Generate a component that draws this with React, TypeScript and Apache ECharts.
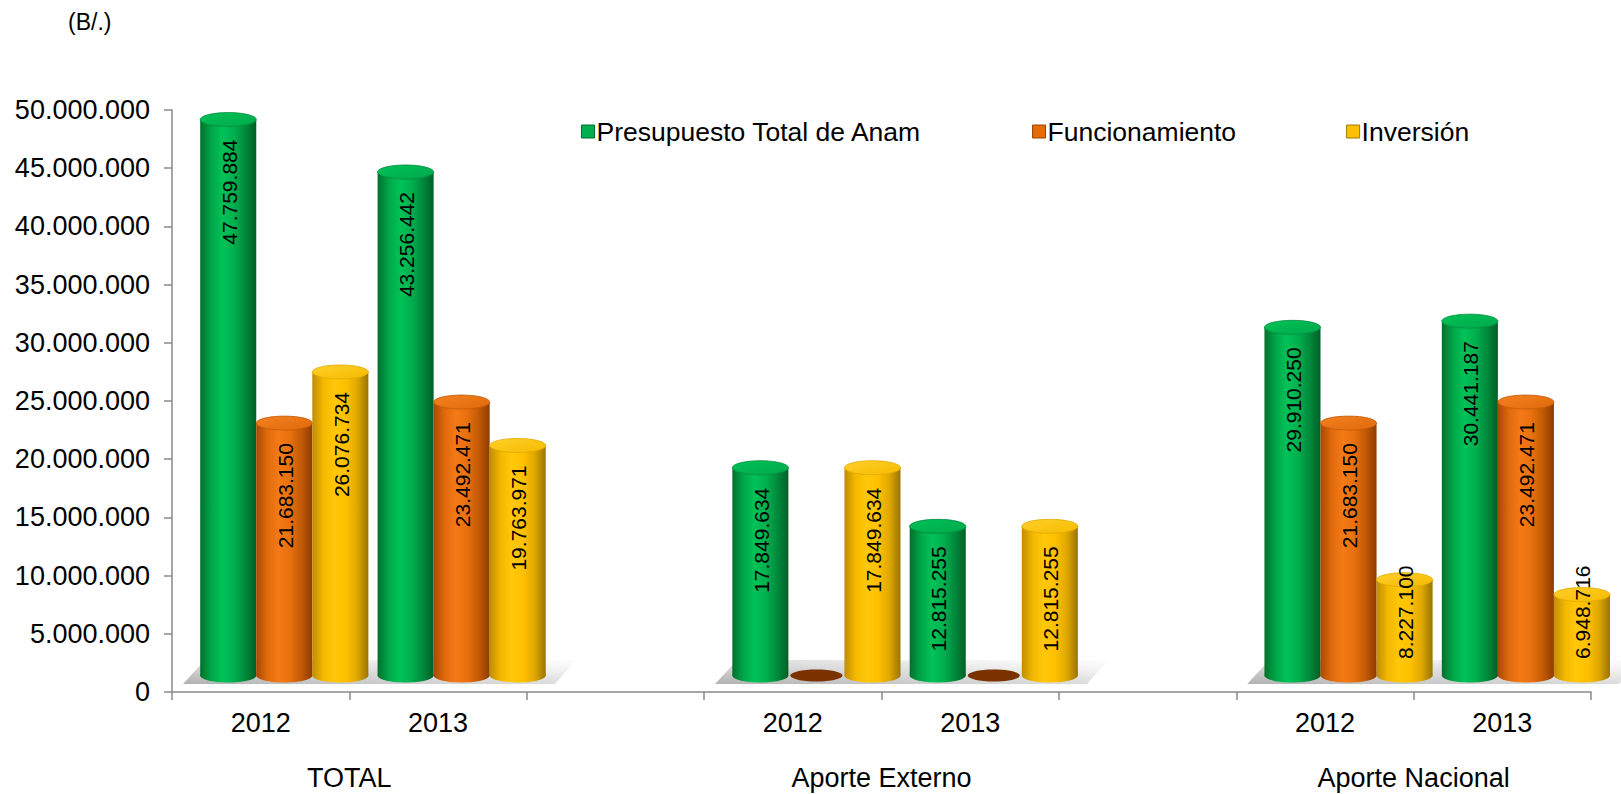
import React, { useEffect, useRef } from "react";
import * as echarts from "echarts";

const unitLabel = "(B/.)";
const years = ["2012", "2013"];
const groups = ["TOTAL", "Aporte Externo", "Aporte Nacional"];
const seriesNames = ["Presupuesto Total de Anam", "Funcionamiento", "Inversión"];
// values per (group, year): TOTAL 2012, TOTAL 2013, Externo 2012, Externo 2013, Nacional 2012, Nacional 2013
const presupuesto = [47759884, 43256442, 17849634, 12815255, 29910250, 30441187];
const funcionamiento = [21683150, 23492471, 0, 0, 21683150, 23492471];
const inversion = [26076734, 19763971, 17849634, 12815255, 8227100, 6948716];
const yTicks = { min: 0, max: 50000000, interval: 5000000 };

const FONT = "'Liberation Sans', Arial, sans-serif";

const fmt = (v: number) => String(Math.round(v)).replace(/\B(?=(\d{3})+(?!\d))/g, ".");

const palettes = [
  {
    base: "#00B050",
    body: ["#00702c", "#00a648", "#00c257", "#00b04f", "#008a3c", "#005f25"],
    top: ["#00c257", "#00a84a"],
    border: "#006b2e",
  },
  {
    base: "#E46C0A",
    body: ["#a84a02", "#e06a0c", "#f47a16", "#e8700e", "#c45a06", "#8e3c00"],
    top: ["#f3801f", "#e06a0c"],
    border: "#9a4300",
    zero: "#7a3300",
  },
  {
    base: "#FFC000",
    body: ["#c08d00", "#f4b800", "#ffc808", "#ffc000", "#e0a800", "#9a7400"],
    top: ["#ffcf2a", "#f5bb00"],
    border: "#a07a00",
  },
];

const categories: string[] = [];
groups.forEach((g, gi) => {
  years.forEach((y) => categories.push(y));
  if (gi < groups.length - 1) categories.push("");
});
const slotOf = (i: number) => Math.floor(i / years.length) * (years.length + 1) + (i % years.length);
const groupCenters = groups.map((g, gi) => gi * (years.length + 1) + years.length / 2);

const seriesValues = [presupuesto, funcionamiento, inversion];

function bodyGradient(stops: string[]) {
  const n = stops.length - 1;
  return new echarts.graphic.LinearGradient(
    0, 0, 1, 0,
    stops.map((c, i) => ({ offset: i / n, color: c }))
  );
}

function makeRender(si: number) {
  const pal = palettes[si] as any;
  return (params: any, api: any) => {
    const cat = api.value(0);
    const val = api.value(1);
    const base = api.coord([cat, 0]);
    const top = api.coord([cat, val]);
    const slot = api.size([1, 0])[0];
    const bw = slot * 0.316;
    const cx = base[0] + slot * (0.133 + (si - 1) * 0.316);
    const lift = 16.5;
    const y0 = base[1] - lift;
    const y1 = top[1] - lift;
    const ry = 7;
    const children: any[] = [];
    if (si === 0 && params.dataIndex % years.length === 0) {
      const L = base[0] - slot / 2;
      const R = L + years.length * slot;
      const yb = base[1] - 8;
      const yt = base[1] - 32;
      children.push({
        type: "polygon",
        shape: { points: [[L + 11, yb], [R + 28, yb], [R + 50, yt], [L + 33, yt]] },
        style: {
          fill: new echarts.graphic.LinearGradient(0, 1, 1, 0, [
            { offset: 0, color: "rgba(150,150,150,0.75)" },
            { offset: 0.6, color: "rgba(195,195,195,0.45)" },
            { offset: 1, color: "rgba(240,240,240,0.15)" },
          ]),
        },
      });
    }
    if (val === 0) {
      children.push({
        type: "ellipse",
        shape: { cx, cy: y0, rx: bw / 2 - 2, ry: 6 },
        style: { fill: pal.zero || pal.border },
      });
      return { type: "group", children };
    }
    children.push({
      type: "ellipse",
      shape: { cx, cy: y0, rx: bw / 2, ry },
      style: { fill: bodyGradient(pal.body) },
    });
    children.push({
      type: "rect",
      shape: { x: cx - bw / 2, y: y1, width: bw, height: y0 - y1 },
      style: { fill: bodyGradient(pal.body) },
    });
    children.push({
      type: "ellipse",
      shape: { cx, cy: y1, rx: bw / 2, ry },
      style: {
        fill: new echarts.graphic.LinearGradient(0, 0, 1, 1, [
          { offset: 0, color: pal.top[0] },
          { offset: 1, color: pal.top[1] },
        ]),
        stroke: pal.body[4],
        lineWidth: 0.8,
      },
    });
    const textLen = 106;
    let textTop = y1 + 20;
    if (textTop + textLen > y0 - 4) textTop = y0 - 4 - textLen;
    children.push({
      type: "text",
      x: cx + 1,
      y: textTop,
      rotation: Math.PI / 2,
      style: {
        text: fmt(val),
        x: 0,
        y: 0,
        align: "right",
        verticalAlign: "middle",
        fill: "#000",
        font: `21px ${FONT}`,
      },
    });
    return { type: "group", children };
  };
}

export default function App() {
  const ref = useRef<HTMLDivElement>(null);
  useEffect(() => {
    if (!ref.current) return;
    const chart = echarts.init(ref.current, undefined, { renderer: "svg" });
    const axisColor = "#8a8a8a";
    chart.setOption({
      animation: false,
      backgroundColor: "#ffffff",
      textStyle: { fontFamily: FONT },
      title: {
        text: unitLabel,
        left: 63,
        top: 5,
        textStyle: { fontSize: 23, fontWeight: "normal", color: "#000", fontFamily: FONT },
      },
      legend: {
        left: 576,
        top: 113,
        icon: "rect",
        itemWidth: 13,
        itemHeight: 13,
        itemGap: 110,
        data: seriesNames.map((n, i) => ({
          name: n,
          itemStyle: { color: palettes[i].base, borderColor: palettes[i].border, borderWidth: 1 },
        })),
        textStyle: { fontSize: 26.5, color: "#000", fontFamily: FONT, padding: [0, 0, 0, -3] },
      },
      grid: { left: 172, right: 30, top: 110, bottom: 102, containLabel: false },
      xAxis: [
        {
          type: "category",
          data: categories,
          position: "bottom",
          offset: 0,
          axisLine: { show: true, lineStyle: { color: axisColor, width: 1.5 } },
          axisTick: { show: true, length: 8, interval: 0, lineStyle: { color: axisColor, width: 1.5 } },
          axisLabel: { interval: 0, margin: 17, fontSize: 27, color: "#000", fontFamily: FONT },
          splitLine: { show: false },
        },
        {
          type: "value",
          min: 0,
          max: categories.length,
          interval: 1,
          position: "bottom",
          offset: 0,
          axisLine: { show: false },
          axisTick: { show: false },
          splitLine: { show: false },
          axisLabel: {
            margin: 72,
            fontSize: 27,
            color: "#000",
            fontFamily: FONT,
            formatter: (v: number) => {
              const gi = groupCenters.indexOf(v);
              return gi >= 0 ? groups[gi] : "";
            },
          },
        },
      ],
      yAxis: {
        type: "value",
        min: yTicks.min,
        max: yTicks.max,
        interval: yTicks.interval,
        axisLine: { show: true, lineStyle: { color: axisColor, width: 1.5 } },
        axisTick: { show: true, length: 8, lineStyle: { color: axisColor, width: 1.5 } },
        splitLine: { show: false },
        axisLabel: { margin: 22, fontSize: 27, color: "#000", fontFamily: FONT, formatter: (v: number) => fmt(v) },
      },
      series: seriesNames.map((name, si) => ({
        name,
        type: "custom",
        xAxisIndex: 0,
        yAxisIndex: 0,
        encode: { x: 0, y: 1 },
        itemStyle: { color: palettes[si].base },
        renderItem: makeRender(si),
        data: seriesValues[si].map((v, i) => [slotOf(i), v]),
        z: 2,
      })),
    });
    return () => chart.dispose();
  }, []);
  return (
    <div
      ref={ref}
      style={{ position: "absolute", left: 0, top: 0, width: 1621, height: 794, background: "#fff" }}
    />
  );
}
